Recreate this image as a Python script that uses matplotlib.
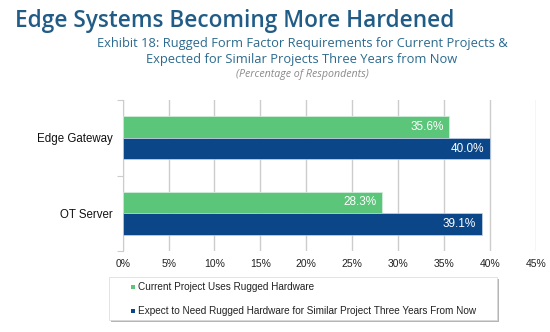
import matplotlib
matplotlib.use("Agg")
import matplotlib.pyplot as plt
from matplotlib.patches import Rectangle

categories = ["Edge Gateway", "OT Server"]
current = [35.6, 28.3]
future = [40.0, 39.1]
series_names = ["Current Project Uses Rugged Hardware",
                "Expect to Need Rugged Hardware for Similar Project Three Years From Now"]
xticks = [0, 5, 10, 15, 20, 25, 30, 35, 40, 45]

GREEN = "#5BC57A"
BLUE = "#0B4788"

fig = plt.figure(figsize=(5.5, 3.32), dpi=100)
W, H = 550, 332
ax = fig.add_axes([122.7 / W, 1 - 251 / H, (535.7 - 122.7) / W, (251 - 100) / H])

bh = 0.288
ys = list(range(len(categories)))
for i, (c, f) in enumerate(zip(current, future)):
    ax.barh(i - bh / 2, c, height=bh, color=GREEN, edgecolor="#d9efe0", linewidth=0.5, zorder=3)
    ax.barh(i + bh / 2, f, height=bh, color=BLUE, edgecolor="#c9d6e6", linewidth=0.5, zorder=3)
    ax.text(c - 0.62, i - bh / 2, f"{c:.1f}%", ha="right", va="center", color="white",
            fontsize=8.5, family="Liberation Sans", zorder=4)
    ax.text(f - 0.62, i + bh / 2, f"{f:.1f}%", ha="right", va="center", color="white",
            fontsize=8.5, family="Liberation Sans", zorder=4)

ax.set_ylim(1.5, -0.5)
ax.set_xlim(0, 45)
ax.set_xticks(xticks)
ax.set_xticklabels([f"{t}%" for t in xticks], family="Liberation Sans", fontsize=7.5,
                   color="#222222")
ax.set_yticks([-0.5, 0.5, 1.5])
ax.set_yticklabels([])
ax.set_yticks(ys, minor=True)
ax.set_yticklabels(categories, minor=True, family="Liberation Sans", fontsize=8.3,
                   color="#111111")
ax.tick_params(axis="y", which="minor", length=0, pad=7)
ax.tick_params(axis="y", which="major", length=4, color="#cccccc", width=0.8)
ax.tick_params(axis="x", length=0, pad=6)
ax.grid(axis="x", color="#cccccc", linewidth=1.0, zorder=0)
for s in ["top", "right", "bottom"]:
    ax.spines[s].set_visible(False)
ax.spines["left"].set_color("#cccccc")

# Titles
fig.text(15 / W, 1 - 27 / H, "Edge Systems Becoming More Hardened", fontsize=16.3,
         family="Open Sans", weight="semibold", color="#215C86", va="baseline", ha="left")
fig.text(302 / W, 1 - 43 / H, "Exhibit 18: Rugged Form Factor Requirements for Current Projects &",
         fontsize=9.3, family="Open Sans", color="#2B6A8E", va="center", ha="center")
fig.text(302 / W, 1 - 59 / H, "Expected for Similar Projects Three Years from Now",
         fontsize=9.3, family="Open Sans", color="#2B6A8E", va="center", ha="center")
fig.text(302 / W, 1 - 75 / H, "(Percentage of Respondents)", fontsize=7.7,
         family="Open Sans", style="italic", color="#8a8a8a", va="center", ha="center")

# Legend box with shadow
lx0, ly0, lx1, ly1 = 109, 277, 497, 320
shadow = Rectangle(((lx0 + 2) / W, 1 - (ly1 + 2) / H), (lx1 - lx0) / W, (ly1 - ly0) / H,
                   transform=fig.transFigure, facecolor="#b5b5b5", edgecolor="none", zorder=1)
box = Rectangle((lx0 / W, 1 - ly1 / H), (lx1 - lx0) / W, (ly1 - ly0) / H,
                transform=fig.transFigure, facecolor="white", edgecolor="#d8d8d8",
                linewidth=0.5, zorder=2)
fig.patches.extend([shadow, box])
for yy, name, col in [(287, series_names[0], GREEN), (310.5, series_names[1], BLUE)]:
    fig.patches.append(Rectangle((131 / W, 1 - (yy + 2) / H), 4 / W, 4 / H,
                                 transform=fig.transFigure, facecolor=col, edgecolor="none", zorder=3))
    fig.text(138 / W, 1 - yy / H, name, fontsize=7.2, family="Liberation Sans",
             color="#222222", va="center", ha="left", zorder=4)

fig.savefig("out.png", dpi=100)
